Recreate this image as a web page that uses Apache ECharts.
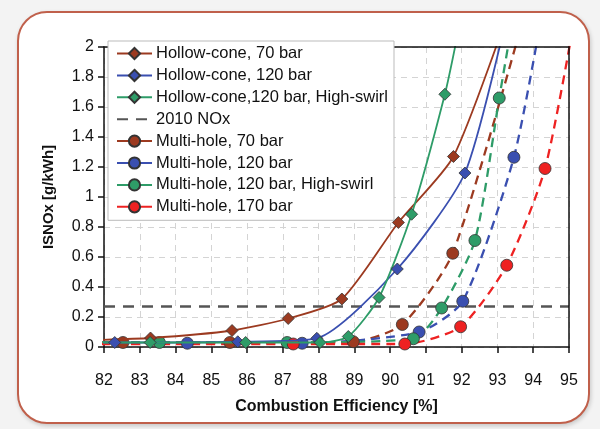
<!DOCTYPE html>
<html><head><meta charset="utf-8">
<script src="https://cdn.jsdelivr.net/npm/echarts@6/dist/echarts.min.js"></script>
<style>
html,body{margin:0;padding:0;background:#f3f3f3;}
#card{position:absolute;left:17px;top:11px;width:569px;height:409px;border:2.5px solid #c0604b;border-radius:30px;background:#fff;box-shadow:1px 2px 4px rgba(0,0,0,0.18);}
#chart{position:absolute;left:0;top:0;width:600px;height:429px;}
</style></head>
<body>
<div id="card"></div>
<div id="chart"></div>
<script>
// Data (x = Combustion Efficiency [%], y = ISNOx [g/kWh])
const xTicks = [82,83,84,85,86,87,88,89,90,91,92,93,94,95];
const yTicks = [0,0.2,0.4,0.6,0.8,1,1.2,1.4,1.6,1.8,2];
const names = ['Hollow-cone, 70 bar','Hollow-cone, 120 bar','Hollow-cone,120 bar, High-swirl','2010 NOx','Multi-hole, 70 bar','Multi-hole, 120 bar','Multi-hole, 120 bar, High-swirl','Multi-hole, 170 bar'];
const hc70    = [[81.5,0.045],[83.3,0.06],[85.58,0.11],[87.15,0.19],[88.65,0.32],[90.23,0.83],[91.77,1.27],[93.4,2.3]];
const hc120   = [[81.5,0.03],[82.3,0.03],[85.74,0.035],[87.95,0.058],[90.2,0.52],[92.09,1.16],[93.3,2.25]];
const hc120hs = [[81.5,0.03],[83.29,0.03],[85.96,0.03],[88.04,0.03],[88.83,0.07],[89.69,0.33],[90.6,0.885],[91.53,1.685],[91.9,2.1]];
const nox2010 = [[82,0.27],[95,0.27]];
const mh70    = [[81.5,0.03],[82.53,0.03],[85.52,0.03],[88.97,0.035],[90.34,0.15],[91.75,0.625],[93.85,2.3]];
const mh120   = [[81.5,0.025],[84.33,0.025],[87.54,0.025],[90.81,0.1],[92.03,0.305],[93.46,1.265],[94.3,2.3]];
const mh120hs = [[81.5,0.03],[83.55,0.03],[87.12,0.03],[90.65,0.055],[91.44,0.26],[92.37,0.71],[93.05,1.66],[93.4,2.15]];
const mh170   = [[81.5,0.02],[87.29,0.02],[90.41,0.02],[91.97,0.135],[93.26,0.545],[94.33,1.19],[95.2,2.25]];

const cBrown='#9c3a20', cBlue='#3a4fb0', cGreen='#2e9c68', cRed='#ee2222', cGray='#555555';
const FONT='Liberation Sans, Arial, sans-serif';

function ser(name, data, color, symbol, dashed){
  return {
    name, type:'line', data, smooth:0.22, clip:true,
    symbol, symbolSize: 12,
    lineStyle:{color, width: dashed?2.3:1.8, type: dashed?[9,6]:'solid'},
    itemStyle:{color, borderColor:'#333', borderWidth:0.8},
    emphasis:{disabled:true}, z: dashed?3:4
  };
}
const series = [
  ser(names[0], hc70, cBrown, 'diamond', false),
  ser(names[1], hc120, cBlue, 'diamond', false),
  ser(names[2], hc120hs, cGreen, 'diamond', false),
  {name:names[3], type:'line', data:nox2010, symbol:'none', lineStyle:{color:cGray,width:2.5,type:[11,8]}, itemStyle:{color:cGray}, z:2},
  ser(names[4], mh70, cBrown, 'circle', true),
  ser(names[5], mh120, cBlue, 'circle', true),
  ser(names[6], mh120hs, cGreen, 'circle', true),
  ser(names[7], mh170, cRed, 'circle', true)
];

const axisLineStyle = {color:'#111', width:1.5};
const chart = echarts.init(document.getElementById('chart'), null, {renderer:'canvas'});
chart.setOption({
  animation:false,
  backgroundColor:'transparent',
  textStyle:{fontFamily:FONT},
  grid:{left:104, right:31, top:47, bottom:82},
  legend:{
    orient:'vertical', left:108, top:41, z:10,
    backgroundColor:'#fff', borderColor:'#bbbbbb', borderWidth:1,
    padding:[4,6,5,8], itemWidth:35, itemHeight:14, itemGap:4.9,
    textStyle:{fontFamily:FONT, fontSize:16.5, color:'#111', padding:[0,0,0,-1]},
    data: names.map((n,i)=> i===3 ? {name:n, itemStyle:{opacity:0}} : (i>=4 ? {name:n, lineStyle:{type:'solid'}} : {name:n}))
  },
  xAxis:[{
    type:'value', min:82, max:95, interval:1,
    axisLine:{lineStyle:axisLineStyle},
    axisTick:{length:6, lineStyle:axisLineStyle},
    axisLabel:{color:'#111', fontSize:16, margin:26, fontFamily:FONT},
    splitLine:{show:true, lineStyle:{color:'#d4d4d4', type:[6,5], width:1}},
    name:'Combustion Efficiency [%]', nameLocation:'middle', nameGap:52,
    nameTextStyle:{fontSize:16, fontWeight:'bold', color:'#111', fontFamily:FONT}
  },{
    type:'value', position:'top', min:82, max:95, interval:1, z:5,
    axisLine:{show:true, onZero:false, lineStyle:axisLineStyle}, axisTick:{show:false}, axisLabel:{show:false}, splitLine:{show:false}
  }],
  yAxis:[{
    type:'value', min:0, max:2, interval:0.2,
    axisLine:{lineStyle:axisLineStyle},
    axisTick:{length:6, lineStyle:axisLineStyle},
    axisLabel:{color:'#111', fontSize:16, margin:10, fontFamily:FONT},
    splitLine:{show:true, lineStyle:{color:'#d4d4d4', type:[6,5], width:1}},
    name:'ISNOx [g/kWh]', nameLocation:'middle', nameGap:48, nameRotate:90,
    nameTextStyle:{fontSize:15, fontWeight:'bold', color:'#111', fontFamily:FONT}
  },{
    type:'value', position:'right', min:0, max:2, interval:0.2, z:5,
    axisLine:{show:true, onZero:false, lineStyle:axisLineStyle}, axisTick:{show:false}, axisLabel:{show:false}, splitLine:{show:false}
  }],
  series
});
</script>
</body></html>
